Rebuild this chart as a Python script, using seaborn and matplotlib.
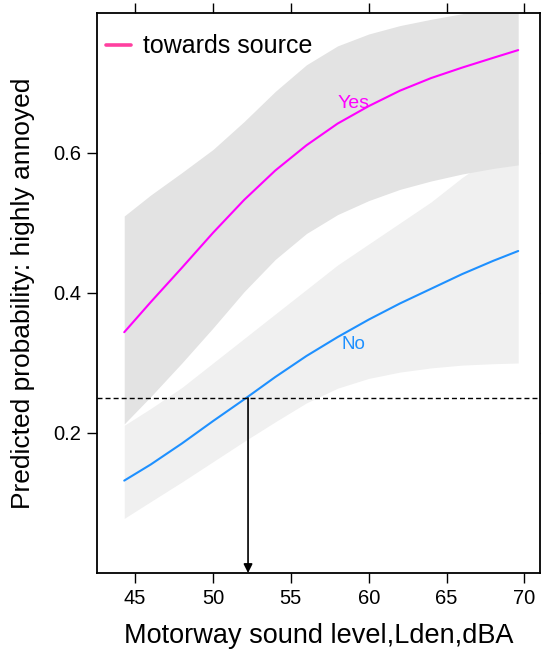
import numpy as np
import pandas as pd
import matplotlib
matplotlib.use("Agg")
import matplotlib.pyplot as plt
from matplotlib.lines import Line2D
import seaborn as sns

# ---- data ----
sound_db = [44.3, 46, 48, 50, 52, 54, 56, 58, 60, 62, 64, 66, 68, 69.6]
yes_prob = [0.344, 0.387, 0.436, 0.486, 0.533, 0.575, 0.611, 0.642, 0.667, 0.689, 0.707, 0.722, 0.736, 0.747]
yes_low = [0.213, 0.252, 0.30, 0.35, 0.402, 0.448, 0.485, 0.512, 0.532, 0.548, 0.56, 0.57, 0.578, 0.583]
yes_high = [0.51, 0.54, 0.572, 0.605, 0.645, 0.688, 0.726, 0.753, 0.77, 0.782, 0.791, 0.799, 0.806, 0.812]
no_prob = [0.132, 0.155, 0.185, 0.217, 0.248, 0.28, 0.31, 0.337, 0.362, 0.385, 0.406, 0.427, 0.446, 0.46]
no_low = [0.078, 0.102, 0.130, 0.159, 0.188, 0.216, 0.243, 0.264, 0.278, 0.287, 0.293, 0.297, 0.299, 0.30]
no_high = [0.211, 0.235, 0.265, 0.30, 0.335, 0.37, 0.405, 0.44, 0.47, 0.50, 0.53, 0.565, 0.595, 0.62]
groups = ["Yes", "No"]
threshold_prob = 0.25
threshold_db = 52.25
x_ticks = [45, 50, 55, 60, 65, 70]
y_ticks = [0.2, 0.4, 0.6]
legend_label = "towards source"

sns.set_style("ticks")
plt.rcParams["font.family"] = ["Liberation Sans", "DejaVu Sans"]
plt.rcParams["text.color"] = "black"
plt.rcParams["axes.labelcolor"] = "black"

col_yes = "#FF00FF"
col_no = "#1E90FF"

fig = plt.figure(figsize=(5.41, 6.57), dpi=100)
ax = fig.add_axes([97 / 541, 84 / 657, 443 / 541, 560 / 657])

# confidence bands
ax.fill_between(sound_db, no_low, no_high, color="#F0F0F0", lw=0, zorder=1)
ax.fill_between(sound_db, yes_low, yes_high, color="#E3E3E3", lw=0, zorder=2)

df = pd.DataFrame({
    "sound": sound_db * 2,
    "prob": yes_prob + no_prob,
    "group": [groups[0]] * len(sound_db) + [groups[1]] * len(sound_db),
})
sns.lineplot(data=df, x="sound", y="prob", hue="group",
             palette={"Yes": col_yes, "No": col_no}, lw=1.5,
             legend=False, ax=ax, zorder=3)

ax.text(59.04, 0.671, groups[0], color=col_yes, fontsize=14,
        ha="center", va="center", zorder=4)
ax.text(59.04, 0.326, groups[1], color=col_no, fontsize=13.5,
        ha="center", va="center", zorder=4)

ax.axhline(threshold_prob, color="black", lw=1.0, ls=(0, (3.6, 2.2)), zorder=4)
ax.annotate("", xy=(threshold_db, 0.0), xytext=(threshold_db, threshold_prob),
            arrowprops=dict(arrowstyle="-|>", color="black", lw=1.2,
                            mutation_scale=13, shrinkA=0, shrinkB=0),
            zorder=5)

ax.set_xlim(42.55, 71.0)
ax.set_ylim(0.0, 0.8)
ax.set_xticks(x_ticks)
ax.set_yticks(y_ticks)
ax.set_yticklabels([f"{v:.1f}" for v in y_ticks])
ax.tick_params(axis="both", which="both", direction="out", length=7.5,
               width=1.0, labelsize=14.5, pad=4, top=True, right=True,
               color="black", labelcolor="black")
for s in ax.spines.values():
    s.set_visible(True)
    s.set_linewidth(1.3)
    s.set_color("black")

ax.set_xlabel("Motorway sound level,Lden,dBA", fontsize=19.5, labelpad=11)
ax.set_ylabel("Predicted probability: highly annoyed", fontsize=19, labelpad=13)

handle = Line2D([0], [0], color="#FF40A0", lw=2.6)
ax.legend([handle], [legend_label], loc="upper left",
          bbox_to_anchor=(0.02, 0.962), frameon=False, fontsize=18,
          borderpad=0, borderaxespad=0, handlelength=1.0, handletextpad=0.5)

fig.savefig("out.png", dpi=100)
